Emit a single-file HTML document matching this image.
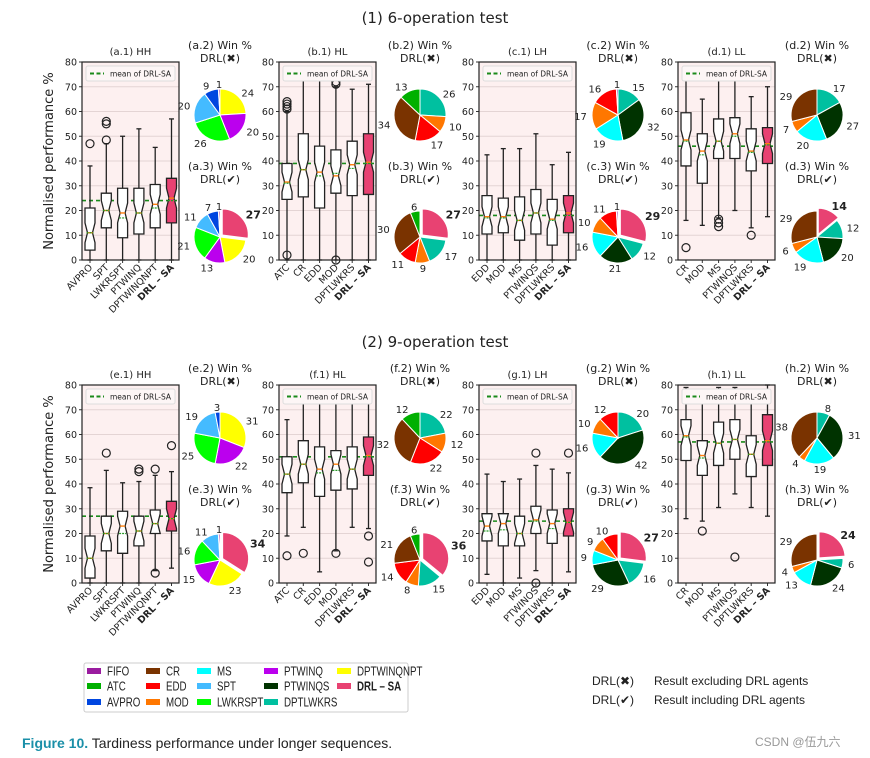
<!DOCTYPE html>
<html><head><meta charset="utf-8"><style>
body{margin:0;background:#fff;width:870px;height:758px;overflow:hidden}
svg{display:block}
text{font-family:"DejaVu Sans","Liberation Sans",sans-serif;fill:#222}
</style></head><body>
<svg id="fig" width="870" height="758" viewBox="0 0 870 758">
<text x="435" y="23" font-size="15" text-anchor="middle">(1) 6-operation test</text>
<text x="435" y="347" font-size="15" text-anchor="middle">(2) 9-operation test</text>
<text transform="translate(53,161) rotate(-90)" font-size="13" text-anchor="middle">Normalised performance %</text>
<text transform="translate(53,484) rotate(-90)" font-size="13" text-anchor="middle">Normalised performance %</text>
<g>
<rect x="84" y="663" width="324" height="49" rx="2" fill="#fff" stroke="#ccc"/>
<g id="legItems"></g>
</g>
<g>
<text x="592" y="685" font-size="12" style="font-family:'Liberation Sans',sans-serif">DRL(✖)</text>
<text x="654" y="685" font-size="12" style="font-family:'Liberation Sans',sans-serif">Result excluding DRL agents</text>
<text x="592" y="704" font-size="12" style="font-family:'Liberation Sans',sans-serif">DRL(✔)</text>
<text x="654" y="704" font-size="12" style="font-family:'Liberation Sans',sans-serif">Result including DRL agents</text>
</g>
<text x="22" y="748" font-size="14" style="font-family:'Liberation Sans',sans-serif"><tspan font-weight="bold" style="fill:#1a8fa8">Figure 10.</tspan> Tardiness performance under longer sequences.</text>
<text x="755" y="746" font-size="12" style="fill:#999;font-family:'Liberation Sans','Noto Sans CJK SC',sans-serif">CSDN @伍九六</text>
</svg>
<script>
// ---- data ----
const colorNames = ['FIFO','ATC','AVPRO','CR','EDD','MOD','MS','SPT','LWKRSPT','PTWINQ','PTWINQS','DPTLWKRS','DPTWINQNPT','DRL – SA','other'];
const colorVals = ['#9a1c9f','#00b000','#0046e0','#7a3300','#ff0000','#ff7700','#00ffff','#44bbff','#00ff00','#bb00ee','#003300','#00c0a0','#ffff00','#e84272','#9a1c9f'];
const panelIds = ['a','b','c','d','e','f','g','h'];
const panelTitles = ['HH','HL','LH','LL','HH','HL','LH','LL'];
const catsA = ['AVPRO','SPT','LWKRSPT','PTWINQ','DPTWINQNPT','DRL – SA'];
const catsB = ['ATC','CR','EDD','MOD','DPTLWKRS','DRL – SA'];
const catsC = ['EDD','MOD','MS','PTWINQS','DPTLWKRS','DRL – SA'];
const catsD = ['CR','MOD','MS','PTWINQS','DPTLWKRS','DRL – SA'];
const catsE = ['AVPRO','SPT','LWKRSPT','PTWINQ','DPTWINQNPT','DRL – SA'];
const catsF = ['ATC','CR','EDD','MOD','DPTLWKRS','DRL – SA'];
const catsG = ['EDD','MOD','MS','PTWINOS','DPTLWKRS','DRL – SA'];
const catsH = ['CR','MOD','MS','PTWINOS','DPTLWKRS','DRL – SA'];
// [whiskerLow, q1, median, q3, whiskerHigh, mean]
const statsA = [[0,4,11,21,38,11],[0,13,20,27,47,20],[0,9,19,29,50,17],[0,10.5,19,29,53,19],[0,13,22.5,30.5,45.5,21],[0,15,25,33,57,24]];
const statsB = [[0,24.5,31.5,39,60,31],[0,25.5,36.5,51,75,36.5],[0,21,35.5,46,73,34],[0,27,34,44.5,70,35],[0,26,38.5,48,69,37],[0,26.5,39.5,51,71,39]];
const statsC = [[0,10.5,17.5,26,42.5,17],[0,11,17.5,25,45,17],[0,8,16,25.5,45,16],[0,10.5,19,28.5,51,19],[0,6,16.5,24.5,38.5,16],[0,11,19,26,43.5,18]];
const statsD = [[16,38,48.5,59.5,76,48],[14,31,44,51,65,42.5],[17,41,48,57,75,48],[20,41,51,57.5,75,50],[13,36,44,53,66,43.5],[17.5,39,47,53.5,70,46.5]];
const statsE = [[0,2,10,19,38.5,10],[0,13,20,27,45.5,20],[0,12,23,29,40.5,20],[0,15,21,27,41,21],[5,20,24,29.5,43.5,24],[6,21,26,33,45,26]];
const statsF = [[19,36.5,44,51,66,44],[22.5,40.5,48,57.5,73,48],[4.5,35,46,55,75,44.5],[13,37.5,48,53.5,75,45.5],[22.5,38,46,55,73,46],[22,43.5,51.5,59,78,51]];
const statsG = [[3.5,17,23,28,44,21],[0,15,24,28,41,21.5],[2,15,20,27,42,20],[5,20,25.5,31,47.5,25],[0,16,24,29.5,46,22],[4.5,19,24.5,30,44.5,24.5]];
const statsH = [[26,49.5,59.5,66,79,59],[25,43.5,51.5,57.5,77,50.5],[30.5,47.5,56.5,65,79,56.5],[36,50,58,66,79,58],[30.5,43,52,59.5,77,52],[27,47.5,57.5,68,80,57]];
const outA = [[47],[48.5,55,56],[],[],[],[]];
const outB = [[2,61,62,63,64],[],[],[0,71,72],[],[]];
const outC = [[],[],[],[],[],[]];
const outD = [[5],[],[13.5,15,16.5],[],[10],[]];
const outE = [[],[52.5],[],[45,46],[4,46],[55.5]];
const outF = [[11],[12],[],[12],[],[8.5,19]];
const outG = [[],[],[],[0,52.5],[],[52.5]];
const outH = [[],[21],[],[10.5],[],[]];
const meanLines = [24,39,18,46,27,51,25,57];
const yTicks = [0,10,20,30,40,50,60,70,80];
// pie slices (clockwise from top): names and values
const pieA2n = ['DPTWINQNPT','PTWINQ','LWKRSPT','SPT','AVPRO','other']; const pieA2v = [24,20,26,20,9,1];
const pieA3n = ['DRL – SA','DPTWINQNPT','PTWINQ','LWKRSPT','SPT','AVPRO','other']; const pieA3v = [27,20,13,21,11,7,1];
const pieB2n = ['DPTLWKRS','MOD','EDD','CR','ATC']; const pieB2v = [26,10,17,34,13];
const pieB3n = ['DRL – SA','DPTLWKRS','MOD','EDD','CR','ATC']; const pieB3v = [27,17,9,11,30,6];
const pieC2n = ['DPTLWKRS','PTWINQS','MS','MOD','EDD','other']; const pieC2v = [15,32,19,17,16,1];
const pieC3n = ['DRL – SA','DPTLWKRS','PTWINQS','MS','MOD','EDD','other']; const pieC3v = [29,12,21,16,10,11,1];
const pieD2n = ['DPTLWKRS','PTWINQS','MS','MOD','CR']; const pieD2v = [17,27,20,7,29];
const pieD3n = ['DRL – SA','DPTLWKRS','PTWINQS','MS','MOD','CR']; const pieD3v = [14,12,20,19,6,29];
const pieE2n = ['DPTWINQNPT','PTWINQ','LWKRSPT','SPT','AVPRO']; const pieE2v = [31,22,25,19,3];
const pieE3n = ['DRL – SA','DPTWINQNPT','PTWINQ','LWKRSPT','SPT','other']; const pieE3v = [34,23,15,16,11,1];
const pieF2n = ['DPTLWKRS','MOD','EDD','CR','ATC']; const pieF2v = [22,12,22,32,12];
const pieF3n = ['DRL – SA','DPTLWKRS','MOD','EDD','CR','ATC']; const pieF3v = [36,15,8,14,21,6];
const pieG2n = ['DPTLWKRS','PTWINQS','MS','MOD','EDD']; const pieG2v = [20,42,16,10,12];
const pieG3n = ['DRL – SA','DPTLWKRS','PTWINQS','MS','MOD','EDD']; const pieG3v = [27,16,29,9,9,10];
const pieH2n = ['DPTLWKRS','PTWINQS','MS','MOD','CR']; const pieH2v = [8,31,19,4,38];
const pieH3n = ['DRL – SA','DPTLWKRS','PTWINQS','MS','MOD','CR']; const pieH3v = [24,6,24,13,4,29];

const allCats=[catsA,catsB,catsC,catsD,catsE,catsF,catsG,catsH];
const allStats=[statsA,statsB,statsC,statsD,statsE,statsF,statsG,statsH];
const allOut=[outA,outB,outC,outD,outE,outF,outG,outH];
const pies2=[[pieA2n,pieA2v],[pieB2n,pieB2v],[pieC2n,pieC2v],[pieD2n,pieD2v],[pieE2n,pieE2v],[pieF2n,pieF2v],[pieG2n,pieG2v],[pieH2n,pieH2v]];
const pies3=[[pieA3n,pieA3v],[pieB3n,pieB3v],[pieC3n,pieC3v],[pieD3n,pieD3v],[pieE3n,pieE3v],[pieF3n,pieF3v],[pieG3n,pieG3v],[pieH3n,pieH3v]];

// ---- drawing ----
const NS='http://www.w3.org/2000/svg';
const svg=document.getElementById('fig');
function mk(tag,attrs,parent){const e=document.createElementNS(NS,tag);for(const k in attrs)e.setAttribute(k,attrs[k]);(parent||svg).appendChild(e);return e;}
function colorOf(n){const i=colorNames.indexOf(n);return i<0?'#999':colorVals[i];}
const X0=[82,279,479,678], PW=97, PH=198;
const rowTop=[62,385];
const pieCx=[220,420,618,817];
function yScale(v,row){return rowTop[row]+PH-v*PH/80;}
function xScale(i,p){return X0[p]+8+i*16.3;}

for(let k=0;k<8;k++){
  const row=k<4?0:1, p=k%4, x0=X0[p], top=rowTop[row], bot=top+PH;
  const g=mk('g',{});
  
  
  const bg=mk('rect',{x:x0,y:top,width:PW,height:PH,fill:'#fdf0f0'},g);
  
  
  yTicks.forEach(t=>{
    const y=yScale(t,row);
    const gl=mk('line',{x1:x0,x2:x0+PW,y1:y,y2:y,stroke:'#e4d4d4','stroke-width':1},g);
    
    
    mk('line',{x1:x0-3,x2:x0,y1:y,y2:y,stroke:'#333'},g);
    const tl=mk('text',{x:x0-5,y:y+3.5,'font-size':9.5,'text-anchor':'end'},g);
    tl.textContent=t;
    
    
  });
  const tt=mk('text',{x:x0+PW/2,y:top-7,'font-size':10,'text-anchor':'middle'},g);
  tt.textContent='('+panelIds[k]+'.1) '+panelTitles[k];
  
  
  const my=yScale(meanLines[k],row);
  const ml=mk('line',{x1:x0,x2:x0+PW,y1:my,y2:my,stroke:'#1a8a1a','stroke-width':1.6,'stroke-dasharray':'4,3'},g);
  
  
  const cats=allCats[k], st=allStats[k], outs=allOut[k];
  st.forEach((s,i)=>{
    const cx=xScale(i,p), hw=5, nw=2.5, n=4;
    const [wl,q1,md,q3,wh,mn]=s;
    const isDrl=cats[i]==='DRL – SA';
    const bx=mk('g',{},g);
    
    
    mk('line',{x1:cx,x2:cx,y1:yScale(wl,row),y2:yScale(q1,row),stroke:'#222','stroke-width':1.3},bx);
    mk('line',{x1:cx,x2:cx,y1:yScale(q3,row),y2:yScale(wh,row),stroke:'#222','stroke-width':1.3},bx);
    mk('line',{x1:cx-hw/2,x2:cx+hw/2,y1:yScale(wl,row),y2:yScale(wl,row),stroke:'#222','stroke-width':1.3},bx);
    mk('line',{x1:cx-hw/2,x2:cx+hw/2,y1:yScale(wh,row),y2:yScale(wh,row),stroke:'#222','stroke-width':1.3},bx);
    const pts=[[cx-hw,q1],[cx+hw,q1],[cx+hw,md-n],[cx+nw,md],[cx+hw,md+n],[cx+hw,q3],[cx-hw,q3],[cx-hw,md+n],[cx-nw,md],[cx-hw,md-n]];
    mk('polygon',{points:pts.map(q=>q[0]+','+yScale(q[1],row)).join(' '),fill:isDrl?'#e84272':'#fff',stroke:'#222','stroke-width':1.3},bx);
    mk('line',{x1:cx-nw,x2:cx+nw,y1:yScale(md,row),y2:yScale(md,row),stroke:'#ff7f0e','stroke-width':1.4},bx);
    mk('line',{x1:cx-nw-1,x2:cx+nw+1,y1:yScale(mn,row),y2:yScale(mn,row),stroke:'#2a9a2a','stroke-width':1.2,'stroke-dasharray':'2,1'},bx);
    outs[i].forEach(o=>{
      const c=mk('circle',{cx:cx,cy:yScale(o,row),r:4,fill:'none',stroke:'#222','stroke-width':1.2},bx);
      
      
    });
    mk('line',{x1:cx,x2:cx,y1:bot,y2:bot+3,stroke:'#333'},g);
    const xl=mk('text',{transform:'translate('+(cx+3)+','+(bot+8)+') rotate(-45)','font-size':9.5,'text-anchor':'end','font-weight':isDrl?'bold':'normal'},g);
    xl.textContent=cats[i];
    
    
  });
  const fr=mk('rect',{x:x0,y:top,width:PW,height:PH,fill:'none',stroke:'#222','stroke-width':1.2},g);
  
  
  const lg=mk('g',{},g);
  
  
  mk('rect',{x:x0+4,y:top+4,width:89,height:15,rx:2,fill:'#fdf6f6',stroke:'#ddd'},lg);
  mk('line',{x1:x0+8,x2:x0+22,y1:top+11.5,y2:top+11.5,stroke:'#1a8a1a','stroke-width':2,'stroke-dasharray':'4,2.5'},lg);
  const lt=mk('text',{x:x0+28,y:top+14.5,'font-size':7.5},lg);
  lt.textContent='mean of DRL-SA';

  [[pies2[k],0],[pies3[k],1]].forEach(([pd,which])=>{
    const names=pd[0], vals=pd[1];
    const pcx=pieCx[p], pcy=(row?323:0)+(which?237:115), r=26;
    const tb=pcy-(which?67:66);
    const pg=mk('g',{});
    
    
    const t1=mk('text',{x:pcx,y:tb,'font-size':11,'text-anchor':'middle'},pg);
    t1.textContent='('+panelIds[k]+'.'+(which?3:2)+') Win %';
    const t2=mk('text',{x:pcx,y:tb+13,'font-size':11,'text-anchor':'middle'},pg);
    t2.textContent=which?'DRL(✔)':'DRL(✖)';
    const tot=vals.reduce((a,b)=>a+b,0);
    let a=0;
    vals.forEach((v,i)=>{
      const a0=a/tot*2*Math.PI, a1=(a+v)/tot*2*Math.PI; a+=v;
      const mid=(a0+a1)/2, isDrl=names[i]==='DRL – SA';
      const off=isDrl?3:0, ox=off*Math.sin(mid), oy=-off*Math.cos(mid);
      const cx=pcx+ox, cy=pcy+oy;
      const large=(a1-a0)>Math.PI?1:0;
      const d='M'+cx+','+cy+' L'+(cx+r*Math.sin(a0))+','+(cy-r*Math.cos(a0))+' A'+r+','+r+' 0 '+large+' 1 '+(cx+r*Math.sin(a1))+','+(cy-r*Math.cos(a1))+' Z';
      const sl=mk('path',{d:d,fill:colorOf(names[i]),stroke:'#fff','stroke-width':1},pg);
      
      
      const lr=r*1.2+(isDrl?3:0);
      const lx=pcx+lr*Math.sin(mid), ly=pcy-lr*Math.cos(mid);
      const tl=mk('text',{x:lx,y:ly+4,'font-size':isDrl?11:10,'font-weight':isDrl?'bold':'normal','text-anchor':Math.sin(mid)>0.2?'start':(Math.sin(mid)<-0.2?'end':'middle')},pg);
      tl.textContent=v;
      
      
    });
  });
}
// bottom legend
const legNames=['FIFO','ATC','AVPRO','CR','EDD','MOD','MS','SPT','LWKRSPT','PTWINQ','PTWINQS','DPTLWKRS','DPTWINQNPT','DRL – SA'];
const legColX=[87,146,197,264,337];
const legRowY=[671,686,702];
const lgp=document.getElementById('legItems');
legNames.forEach((n,i)=>{
  const c=Math.floor(i/3), r=i%3;
  const x=legColX[c], y=legRowY[r];
  const it=mk('g',{},lgp);
  
  
  mk('rect',{x:x,y:y-3,width:14,height:6,fill:colorOf(n)},it);
  const t=mk('text',{transform:'translate('+(x+20)+','+(y+4.5)+') scale(0.78,1)','font-size':12.5,'font-weight':n==='DRL – SA'?'bold':'normal',style:"font-family:'Liberation Sans',sans-serif"},it);
  t.textContent=n;
});
</script>
</body></html>
